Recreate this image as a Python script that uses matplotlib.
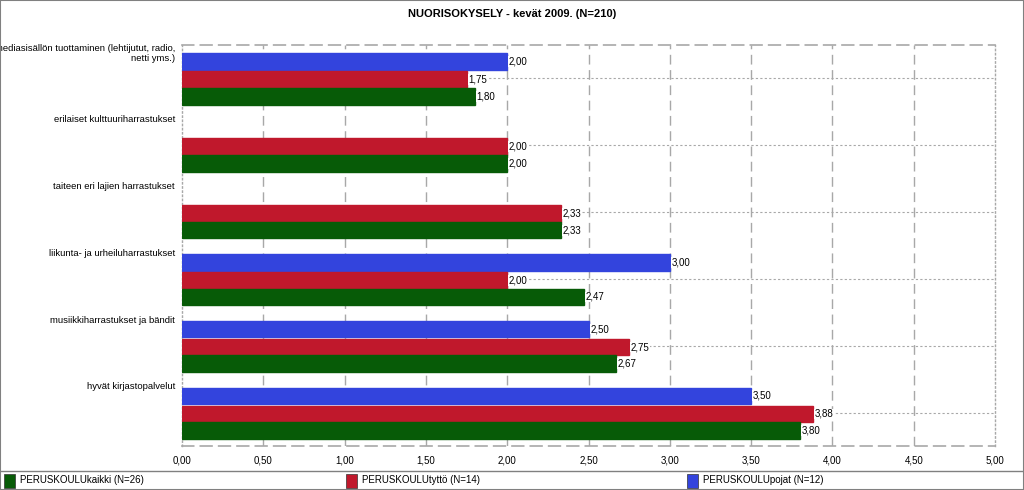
import matplotlib.pyplot as plt
from matplotlib.patches import Rectangle
from matplotlib.lines import Line2D
import numpy as np

# kategoriat ylhäältä alas
categories = [
    "mediasisällön tuottaminen (lehtijutut, radio,\nnetti yms.)",
    "erilaiset kulttuuriharrastukset",
    "taiteen eri lajien harrastukset",
    "liikunta- ja urheiluharrastukset",
    "musiikkiharrastukset ja bändit",
    "hyvät kirjastopalvelut",
]
# None = ei arvoa
pojat = [2.00, None, None, 3.00, 2.50, 3.50]
tytto = [1.75, 2.00, 2.33, 2.00, 2.75, 3.88]
kaikki = [1.80, 2.00, 2.33, 2.47, 2.67, 3.80]

series_names = ["PERUSKOULUkaikki (N=26)", "PERUSKOULUtyttö (N=14)", "PERUSKOULUpojat (N=12)"]
colors = {"kaikki": "#075b07", "tytto": "#c0182c", "pojat": "#3344dd"}
xticks = np.arange(0, 5.01, 0.5)

plt.rcParams['font.family'] = ['Liberation Sans', 'DejaVu Sans']
fig = plt.figure(figsize=(10.24, 4.9), dpi=100)
ax = fig.add_axes([182/1024, 1-446/490, (995-182)/1024, (446-45)/490])

y = np.arange(len(categories))
h = 0.25
fs = 7

def draw(vals, off, col):
    for yi, v in zip(y, vals):
        if v is None:
            continue
        ax.barh(yi + off, v, height=h, color=col, edgecolor=col, zorder=3)
        ax.text(v + 0.01, yi + off, f"{v:.2f}".replace(".", ","), fontsize=fs,
                va="center", ha="left", zorder=4,
                bbox=dict(facecolor="white", edgecolor="none", pad=0.3))

draw(pojat, -h, colors["pojat"])
draw(tytto, 0.02, colors["tytto"])
draw(kaikki, h + 0.02, colors["kaikki"])

ax.set_xlim(0, 5)
ax.set_ylim(len(categories) - 0.5, -0.5)

# pystysuuntaiset apuviivat
for xv in xticks[1:-1]:
    ax.axvline(xv, color="#a8a8a8", lw=1, ls=(0, (7, 4)), zorder=1)
# vaakasuuntaiset apuviivat
for yi in y:
    ax.axhline(yi, color="#a8a8a8", lw=0.8, ls=(0, (2, 2)), zorder=1)

ax.set_xticks(xticks)
ax.set_xticklabels([f"{t:.2f}".replace(".", ",") for t in xticks], fontsize=fs)
ax.set_yticks(y - 0.4)
ax.set_yticklabels(categories, fontsize=6.8)
ax.tick_params(axis="y", length=0, pad=5)
ax.tick_params(axis="x", length=0, pad=7)

for side in ["top", "bottom"]:
    ax.spines[side].set_color("#a8a8a8")
    ax.spines[side].set_linestyle((0, (7, 4)))
    ax.spines[side].set_linewidth(1.2)
for side in ["left", "right"]:
    ax.spines[side].set_color("#a8a8a8")
    ax.spines[side].set_linestyle((0, (1, 2)))
    ax.spines[side].set_linewidth(1)

fig.text(0.5, 1-14/490, "NUORISOKYSELY - kevät 2009. (N=210)", ha="center", va="center",
         fontsize=8, fontweight="bold")

# selite
fig.add_artist(Line2D([0, 1], [1-471/490, 1-471/490], color="#808080", lw=1))
leg_cols = [colors["kaikki"], colors["tytto"], colors["pojat"]]
for i, (name, col) in enumerate(zip(series_names, leg_cols)):
    x0 = (4 + i * 341.5) / 1024
    fig.add_artist(Rectangle((x0, 1-488/490), 11/1024, 14/490, facecolor=col,
                             edgecolor="#333333", lw=0.5))
    fig.text(x0 + 16/1024, 1-480/490, name, fontsize=fs, va="center", ha="left")

fig.add_artist(Rectangle((0, 0), 1, 1, fill=False, edgecolor="#808080", lw=1.5,
                         transform=fig.transFigure))

fig.savefig("out.png", dpi=100)
